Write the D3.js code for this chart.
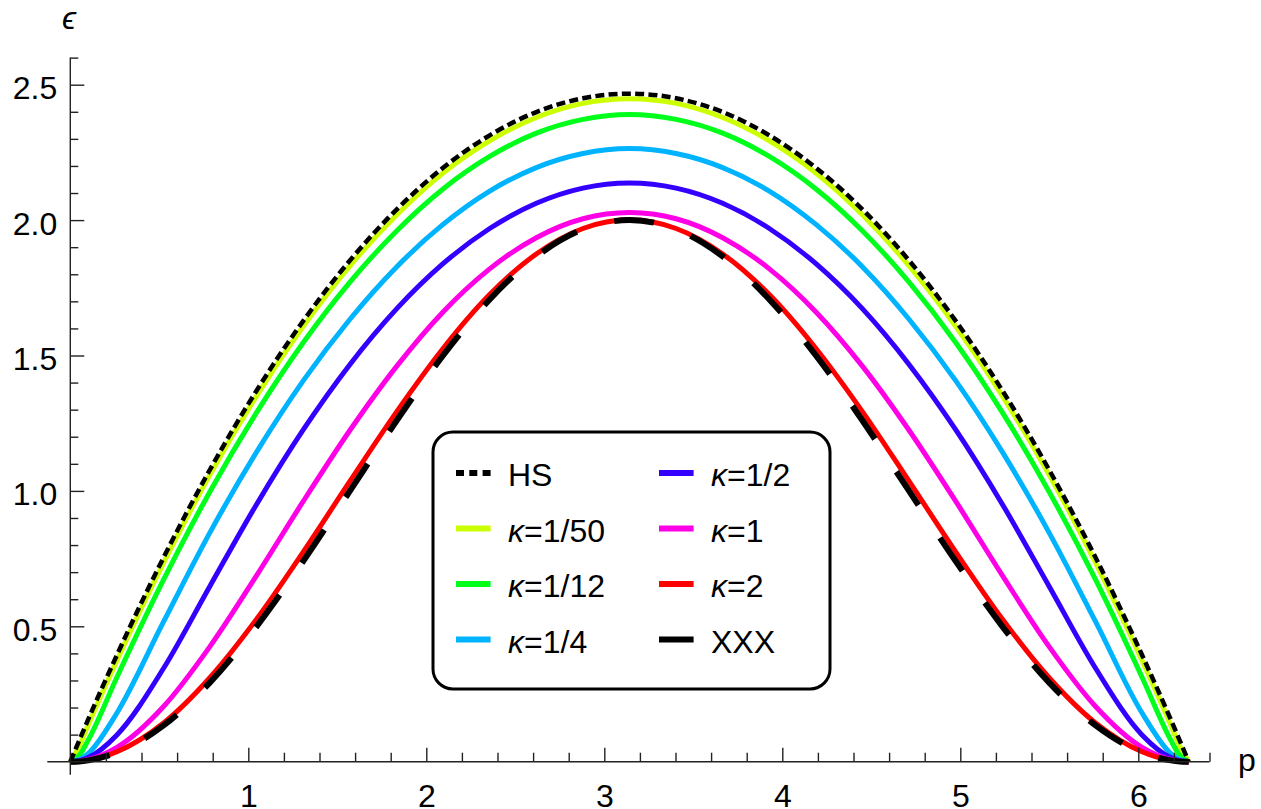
<!DOCTYPE html>
<html>
<head>
<meta charset="utf-8">
<script src="https://cdn.jsdelivr.net/npm/d3@7"></script>
<style>
    body { margin: 0; background: #fff; }
    svg text { font-family: "Liberation Sans", Arial, sans-serif; }
</style>
</head>
<body>
<div id="chart"></div>
<script>
// momentum grid (p) and the energy of each curve
var pValues = [0, 0.05, 0.1, 0.262, 0.524, 0.785, 1.047, 1.309, 1.571, 1.833, 2.094, 2.356, 2.618, 2.880, 3.142,
    3.403, 3.665, 3.927, 4.189, 4.451, 4.712, 4.974, 5.236, 5.498, 5.760, 6.021, 6.183, 6.233, 6.283];

var hsValues = [0, 0.078, 0.155, 0.394, 0.754, 1.079, 1.371, 1.628, 1.851, 2.039, 2.193, 2.313, 2.399, 2.450, 2.467,
    2.450, 2.399, 2.313, 2.193, 2.039, 1.851, 1.628, 1.371, 1.079, 0.754, 0.394, 0.155, 0.078, 0];
var kappa1over50 = [0, 0.058, 0.135, 0.374, 0.734, 1.060, 1.351, 1.608, 1.831, 2.019, 2.174, 2.293, 2.379, 2.431, 2.448,
    2.431, 2.379, 2.293, 2.174, 2.019, 1.831, 1.608, 1.351, 1.060, 0.734, 0.374, 0.135, 0.058, 0];
var kappa1over12 = [0, 0.023, 0.079, 0.312, 0.672, 0.998, 1.290, 1.548, 1.771, 1.960, 2.115, 2.235, 2.321, 2.372, 2.390,
    2.372, 2.321, 2.235, 2.115, 1.960, 1.771, 1.548, 1.290, 0.998, 0.672, 0.312, 0.079, 0.023, 0];
var kappa1over4 = [0, 0.008, 0.030, 0.180, 0.517, 0.847, 1.144, 1.407, 1.634, 1.827, 1.984, 2.107, 2.194, 2.246, 2.264,
    2.246, 2.194, 2.107, 1.984, 1.827, 1.634, 1.407, 1.144, 0.847, 0.517, 0.180, 0.030, 0.008, 0];
var kappa1over2 = [0, 0.004, 0.015, 0.099, 0.345, 0.649, 0.951, 1.226, 1.467, 1.672, 1.839, 1.969, 2.062, 2.118, 2.137,
    2.118, 2.062, 1.969, 1.839, 1.672, 1.467, 1.226, 0.951, 0.649, 0.345, 0.099, 0.015, 0.004, 0];
var kappa1 = [0, 0.002, 0.008, 0.053, 0.204, 0.426, 0.688, 0.962, 1.224, 1.460, 1.661, 1.820, 1.935, 2.005, 2.028,
    2.005, 1.935, 1.820, 1.661, 1.460, 1.224, 0.962, 0.688, 0.426, 0.204, 0.053, 0.008, 0.002, 0];
var kappa2 = [0, 0.001, 0.005, 0.037, 0.143, 0.311, 0.527, 0.775, 1.036, 1.292, 1.526, 1.725, 1.875, 1.969, 2.001,
    1.969, 1.875, 1.725, 1.526, 1.292, 1.036, 0.775, 0.527, 0.311, 0.143, 0.037, 0.005, 0.001, 0];
var xxxValues = [0, 0.001, 0.005, 0.034, 0.134, 0.293, 0.500, 0.741, 1.000, 1.259, 1.500, 1.707, 1.866, 1.966, 2.000,
    1.966, 1.866, 1.707, 1.500, 1.259, 1.000, 0.741, 0.500, 0.293, 0.134, 0.034, 0.005, 0.001, 0];

var xMajorTicks = [1, 2, 3, 4, 5, 6];
var xMinorTicks = [0.2, 0.4, 0.6, 0.8, 1.2, 1.4, 1.6, 1.8, 2.2, 2.4, 2.6, 2.8, 3.2, 3.4, 3.6, 3.8,
    4.2, 4.4, 4.6, 4.8, 5.2, 5.4, 5.6, 5.8, 6.2, 6.4];
var yMajorTicks = [0.5, 1.0, 1.5, 2.0, 2.5];
var yMinorTicks = [0.1, 0.2, 0.3, 0.4, 0.6, 0.7, 0.8, 0.9, 1.1, 1.2, 1.3, 1.4, 1.6, 1.7, 1.8, 1.9,
    2.1, 2.2, 2.3, 2.4, 2.6];

// legend order: first column then second column
var seriesNames = ['HS', 'κ=1/50', 'κ=1/12', 'κ=1/4', 'κ=1/2', 'κ=1', 'κ=2', 'XXX'];
var seriesValues = [hsValues, kappa1over50, kappa1over12, kappa1over4, kappa1over2, kappa1, kappa2, xxxValues];
var seriesColors = ['#000000', '#ccff00', '#00ff1a', '#00b3ff', '#3300ff', '#ff00e6', '#ff0000', '#000000'];
var seriesDash = ['9,4.3', null, null, null, null, null, null, '40,39'];
var seriesWidth = [4.5, 5, 5, 5, 5, 5, 5, 6];
var drawOrder = [1, 2, 3, 4, 5, 6, 7, 0];

var width = 1261, height = 809;
var x0 = 70.3, y0 = 761.7;
var fontSize = 32;

var svg = d3.select('#chart').append('svg')
    .attr('width', width)
    .attr('height', height);

var x = d3.scaleLinear().domain([0, 6.4]).range([x0, x0 + 6.4 * 178]);
var y = d3.scaleLinear().domain([0, 2.6]).range([y0, y0 - 2.6 * 270.8]);

//draw curves
var line = d3.line()
    .x(function (d) { return x(d[0]); })
    .y(function (d) { return y(d[1]); })
    .curve(d3.curveMonotoneX);

drawOrder.forEach(function (i) {
    var pts = pValues.map(function (p, j) { return [p, seriesValues[i][j]]; });
    svg.append('path')
        .datum(pts)
        .attr('d', line)
        .attr('fill', 'none')
        .attr('stroke', seriesColors[i])
        .attr('stroke-width', seriesWidth[i])
        .attr('stroke-dasharray', seriesDash[i]);
});

//axes
var axisColor = '#222';
var xAxisMajor = svg.append('g')
    .attr('transform', 'translate(0,' + y0 + ')')
    .call(d3.axisBottom(x).tickValues(xMajorTicks).tickSizeInner(-14).tickSizeOuter(0)
        .tickPadding(22.5).tickFormat(d3.format('d')));
var xAxisMinor = svg.append('g')
    .attr('transform', 'translate(0,' + y0 + ')')
    .call(d3.axisBottom(x).tickValues(xMinorTicks).tickSizeInner(-9).tickSizeOuter(0).tickFormat(''));
var yAxisMajor = svg.append('g')
    .attr('transform', 'translate(' + x0 + ',0)')
    .call(d3.axisLeft(y).tickValues(yMajorTicks).tickSizeInner(-14).tickSizeOuter(0)
        .tickPadding(13).tickFormat(d3.format('.1f')));
var yAxisMinor = svg.append('g')
    .attr('transform', 'translate(' + x0 + ',0)')
    .call(d3.axisLeft(y).tickValues(yMinorTicks).tickSizeInner(-8).tickSizeOuter(0).tickFormat(''));

[xAxisMajor, xAxisMinor, yAxisMajor, yAxisMinor].forEach(function (g) {
    g.select('.domain').remove();
    g.selectAll('line').attr('stroke', axisColor).attr('stroke-width', 1.4);
    g.selectAll('text')
        .attr('fill', '#000')
        .style('font-size', fontSize + 'px')
        .style('font-family', '"Liberation Sans", Arial, sans-serif');
});
yAxisMajor.selectAll('text').attr('dy', '0.44em');

// axis lines, both run a little past the origin
svg.append('line')
    .attr('x1', x0 - 23).attr('y1', y0)
    .attr('x2', x(6.4)).attr('y2', y0)
    .attr('stroke', axisColor).attr('stroke-width', 1.4);
svg.append('line')
    .attr('x1', x0).attr('y1', y(2.6))
    .attr('x2', x0).attr('y2', y0 + 13)
    .attr('stroke', axisColor).attr('stroke-width', 1.4);

// axis labels
svg.append('text')
    .text('ϵ')
    .attr('x', 69).attr('y', 29)
    .attr('text-anchor', 'middle')
    .style('font-style', 'italic')
    .style('font-size', fontSize + 'px');
svg.append('text')
    .text('p')
    .attr('x', 1238).attr('y', 771)
    .style('font-size', fontSize + 'px');

//legend
var legend = svg.append('g');
legend.append('rect')
    .attr('x', 433).attr('y', 432)
    .attr('width', 397).attr('height', 257)
    .attr('rx', 20).attr('ry', 20)
    .attr('fill', '#fff')
    .attr('stroke', '#000')
    .attr('stroke-width', 3);

var colX = [456, 659];
var rowY = [486, 541.5, 597, 652.5];
seriesNames.forEach(function (name, i) {
    var cx = colX[Math.floor(i / 4)];
    var cy = rowY[i % 4];
    legend.append('line')
        .attr('x1', cx).attr('y1', cy - 13)
        .attr('x2', cx + 34.6).attr('y2', cy - 13)
        .attr('stroke', seriesColors[i])
        .attr('stroke-width', 6)
        .attr('stroke-dasharray', i === 0 ? '8,5.3' : null);
    var label = legend.append('text')
        .attr('x', cx + 52).attr('y', cy)
        .style('font-size', fontSize + 'px');
    if (name.charAt(0) === 'κ') {
        label.append('tspan').text('κ').style('font-style', 'italic');
        label.append('tspan').text(name.slice(1));
    } else {
        label.text(name);
    }
});
</script>
</body>
</html>
